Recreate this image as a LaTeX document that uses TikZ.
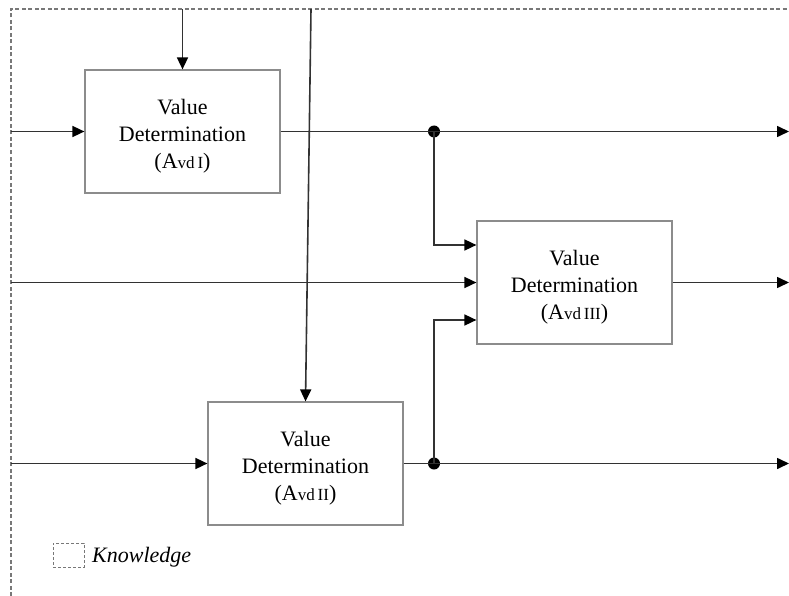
\documentclass[tikz,border=0pt]{standalone}
\usepackage{fontspec}
\setmainfont{Liberation Serif}
\usetikzlibrary{arrows.meta}
\definecolor{boxgray}{RGB}{140,140,140}
\definecolor{linegray}{RGB}{50,50,50}
\definecolor{dashgray}{RGB}{120,120,120}
\newcommand{\avd}[1]{(A{\fontsize{17}{17}\selectfont vd\,#1})}
\begin{document}
\begin{tikzpicture}[x=1pt,y=-1pt,
  vdbox/.style={draw=boxgray, line width=1.2pt, minimum width=195pt, minimum height=123pt,
    inner sep=0pt,
    label={[align=center, inner sep=0pt, yshift=-4.5pt, font=\fontsize{22}{27}\selectfont]center:#1}},
  flow/.style={draw=linegray, line width=1.6pt},
  arr/.style={flow, -{Triangle[length=12pt,width=11pt,fill=black,color=black]}},
  junction/.style={circle, fill=black, inner sep=0pt, minimum size=12pt},
  knowborder/.style={draw=dashgray, line width=1.2pt, dash pattern=on 4pt off 2.5pt}]
\useasboundingbox (0,0) rectangle (789,596);

% knowledge border (top and left edges)
\coordinate (tl) at (11,9);
\coordinate (bl) at (11,596);
\coordinate (tr) at (789,9);
\draw[knowborder] (bl) -- (tl) -- (tr);

% value determination activities
\node[vdbox={Value\\Determination\\\avd{I}}] (v1) at (182.5,131.5) {};
\node[vdbox={Value\\Determination\\\avd{III}}] (v3) at (574.5,282.5) {};
\node[vdbox={Value\\Determination\\\avd{II}}] (v2) at (305.5,463.5) {};

% top inputs
\draw[arr] (v1.north |- tl) -- (v1.north);
\coordinate (t2) at (311,9);
\draw[arr] (t2) -- (v2.north);

% left inputs
\draw[arr] (tl |- v1.west) -- (v1.west);
\draw[arr] (tl |- v3.west) -- (v3.west);
\draw[arr] (tl |- v2.west) -- (v2.west);

% outputs and branch points
\node[junction] (j1) at (434,131.5) {};
\node[junction] (j2) at (434,463.5) {};
\draw[arr] (v1.east) -- (tr |- v1.east);
\draw[arr] (v3.east) -- (tr |- v3.east);
\draw[arr] (v2.east) -- (tr |- v2.east);
\draw[arr] (j1.center) |- ([yshift=37.5pt]v3.west);
\draw[arr] (j2.center) |- ([yshift=-37.5pt]v3.west);

% legend
\node[draw=dashgray, line width=1pt, dash pattern=on 3pt off 2pt,
  minimum width=31pt, minimum height=24pt, inner sep=0pt] (lg) at (68.5,555) {};
\node[anchor=west, inner sep=0pt, font=\fontsize{22}{27}\selectfont\itshape] (lt) at (92,557) {Knowledge};
\end{tikzpicture}
\end{document}
